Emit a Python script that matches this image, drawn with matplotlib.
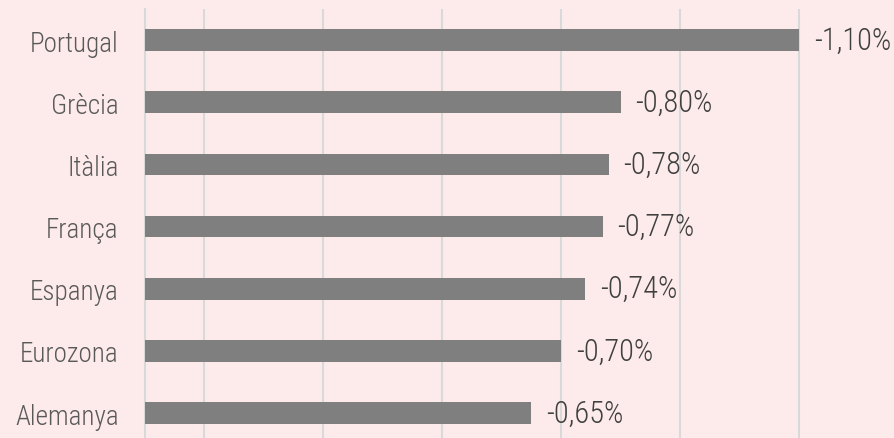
import matplotlib
matplotlib.use("Agg")
import matplotlib.pyplot as plt
from matplotlib import font_manager

# datos (de abajo hacia arriba)
paises = ["Alemanya", "Eurozona", "Espanya", "França", "Itàlia", "Grècia", "Portugal"]
valores = [0.65, 0.70, 0.74, 0.77, 0.78, 0.80, 1.10]
etiquetas = ["-0,65%", "-0,70%", "-0,74%", "-0,77%", "-0,78%", "-0,80%", "-1,10%"]
rejilla = [0.1, 0.3, 0.5, 0.7, 0.9, 1.1]

fondo = "#fdebeb"
nombres = {f.name for f in font_manager.fontManager.ttflist}
familia = ["Roboto", "DejaVu Sans"]
for cand in ["Roboto Condensed", "Liberation Sans Narrow"]:
    if cand in nombres:
        familia = [cand] + familia
        break
plt.rcParams["font.family"] = familia
plt.rcParams["font.weight"] = "light"

fig = plt.figure(figsize=(8.94, 4.39), dpi=100, facecolor=fondo)
ax = fig.add_axes([145 / 894, 0, 1 - 145 / 894, 429 / 439])
ax.set_facecolor(fondo)

pos = list(range(len(paises)))
ax.barh(pos, valores, height=0.35, color="#7f7f7f", zorder=3)

for p, v, t in zip(pos, valores, etiquetas):
    ax.text(v + 0.025, p, t, va="center", ha="left", fontsize=22, color="#404040")

ax.set_xlim(0, 1.26)
ax.set_ylim(-0.40, 6.5)
ax.set_xticks(rejilla)
ax.xaxis.grid(True, color="#d9d9d9", linewidth=1.5, zorder=0)
ax.tick_params(axis="x", length=0, labelbottom=False)
ax.set_yticks(pos)
ax.set_yticklabels(paises, fontsize=19.5, color="#595959")
ax.tick_params(axis="y", length=0, pad=19)

for lado in ["top", "right", "bottom"]:
    ax.spines[lado].set_visible(False)
ax.spines["left"].set_color("#d9d9d9")
ax.spines["left"].set_linewidth(1.5)

fig.savefig("out.png", dpi=100, facecolor=fondo)
